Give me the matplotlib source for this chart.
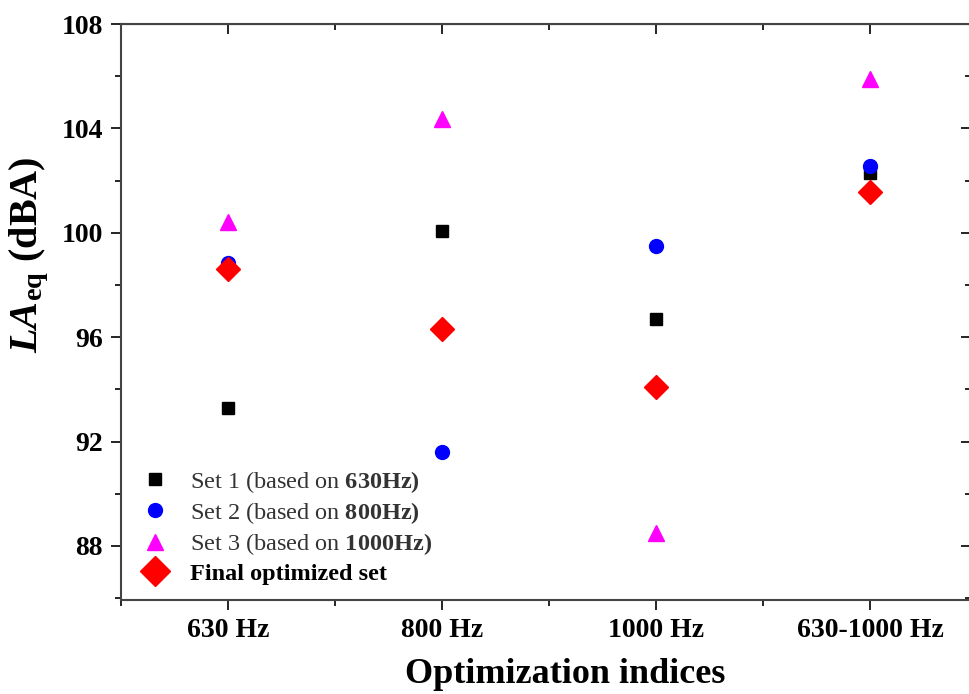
import matplotlib
matplotlib.use("Agg")
import matplotlib.pyplot as plt
from matplotlib.ticker import MultipleLocator

plt.rcParams['font.family'] = 'Liberation Serif'
plt.rcParams['mathtext.fontset'] = 'custom'
plt.rcParams['mathtext.rm'] = 'Liberation Serif'
plt.rcParams['mathtext.it'] = 'Liberation Serif:italic'
plt.rcParams['mathtext.bf'] = 'Liberation Serif:bold'
plt.rcParams['mathtext.bfit'] = 'Liberation Serif:bold:italic'

# data
categories = ['630 Hz', '800 Hz', '1000 Hz', '630-1000 Hz']
set1 = [93.3, 100.05, 96.7, 102.3]
set2 = [98.85, 91.6, 99.5, 102.55]
set3 = [100.4, 104.35, 88.5, 105.9]
final = [98.6, 96.3, 94.1, 101.55]

x = list(range(len(categories)))

fig = plt.figure(figsize=(9.69, 6.94), dpi=100)
ax = fig.add_axes([121/969, 94/694, 850/969, 576/694])

ax.plot(x, set1, 's', color='black', ms=8.5, ls='none', label=r'Set 1 (based on $\mathbf{630Hz)}$')
ax.plot(x, set2, 'o', color='blue', ms=10, ls='none', label=r'Set 2 (based on $\mathbf{800Hz)}$')
ax.plot(x, set3, '^', color='magenta', ms=11, ls='none', label=r'Set 3 (based on $\mathbf{1000Hz)}$')
ax.plot(x, final, 'D', color='red', ms=12, ls='none', label='Final optimized set')

ax.set_xlim(-0.5, 3.47)
ax.set_ylim(85.93, 108)
ax.set_xticks(x)
ax.set_xticklabels(categories, fontsize=20, fontweight='bold')
ax.xaxis.set_minor_locator(MultipleLocator(0.5))
ax.yaxis.set_major_locator(MultipleLocator(4))
ax.yaxis.set_minor_locator(MultipleLocator(2))
for lab in ax.get_yticklabels():
    lab.set_fontsize(20)
    lab.set_fontweight('bold')

ax.tick_params(which='both', direction='out', width=1.2)
ax.tick_params(which='major', length=7, pad=6)
ax.tick_params(which='minor', length=4)
for s in ax.spines.values():
    s.set_linewidth(1.5)
    s.set_color('#444444')

# top / right ticks point inward
secx = ax.secondary_xaxis('top')
secx.set_xticks(x)
secx.xaxis.set_minor_locator(MultipleLocator(0.5))
secx.tick_params(which='both', direction='in', labeltop=False, width=1.2)
secx.tick_params(which='major', length=7)
secx.tick_params(which='minor', length=4)
secy = ax.secondary_yaxis('right')
secy.yaxis.set_major_locator(MultipleLocator(4))
secy.yaxis.set_minor_locator(MultipleLocator(2))
secy.tick_params(which='both', direction='in', labelright=False, width=1.2)
secy.tick_params(which='major', length=7)
secy.tick_params(which='minor', length=4)

ax.set_xlabel('Optimization indices', fontsize=26, fontweight='bold')
ax.xaxis.set_label_coords(0.522, -0.1)
ax.set_ylabel(r'$\mathbfit{LA}_{\mathbf{eq}}$ (dBA)', fontsize=29, fontweight='bold')
ax.yaxis.set_label_coords(-0.082, 0.6)

leg = ax.legend(loc='lower left', bbox_to_anchor=(0.0, 0.01), frameon=False, fontsize=17.5,
                handletextpad=0.45, labelspacing=0.22, borderaxespad=0)
for t in leg.get_texts()[:3]:
    t.set_color('#333333')
leg.get_texts()[3].set_fontweight('bold')
leg.legend_handles[3].set_markersize(15)

fig.savefig('out.png', dpi=100)
